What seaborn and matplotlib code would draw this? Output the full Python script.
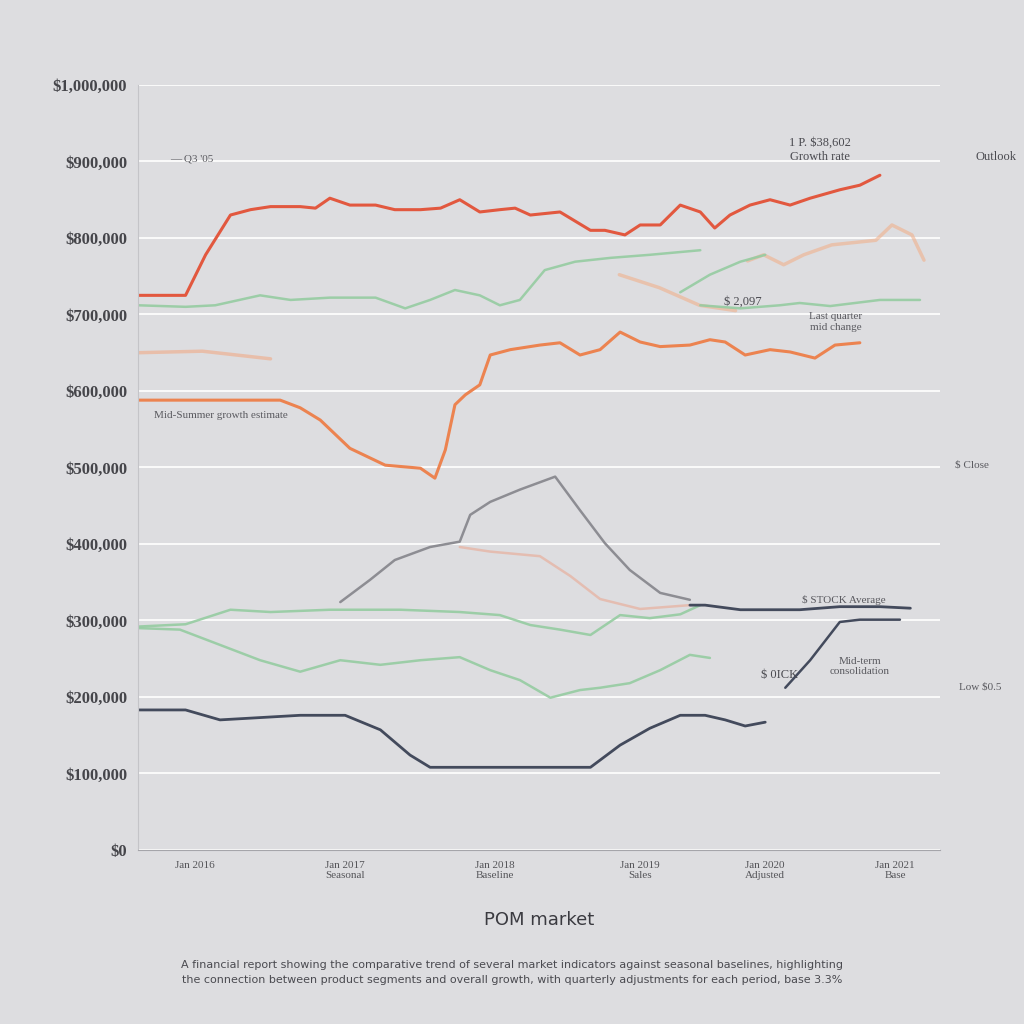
import pandas as pd
import numpy as np
import matplotlib.pyplot as plt
import seaborn as sns

# ==============================
# DATA (x = period index 0-100, y = value in $1,000)
# ==============================
red_x = [0, 5.9, 8.4, 11.5, 14, 16.5, 20.2, 22.1, 23.9, 26.4, 29.6, 32, 35.2, 37.7, 40.1, 42.6, 45.1, 47,
         48.9, 52.6, 56.4, 58.2, 60.7, 62.6, 65.1, 67.6, 70.1, 71.9, 73.8, 76.3, 78.8, 81.3, 83.8, 87.5, 90, 92.5]
red_y = [725, 725, 778, 830, 837, 841, 841, 839, 852, 843, 843, 837, 837, 839, 850, 834, 837, 839,
         830, 834, 810, 810, 804, 817, 817, 843, 834, 813, 830, 843, 850, 843, 852, 863, 869, 882]

orange_x = [0, 17.7, 20.2, 22.7, 26.4, 30.8, 35.2, 37, 38.3, 39.5, 40.8, 42.6, 43.9, 46.4, 50.1, 52.6, 55.1,
            57.6, 60.1, 62.6, 65.1, 68.8, 71.3, 73.2, 75.7, 78.8, 81.3, 84.4, 86.9, 90]
orange_y = [588, 588, 578, 562, 525, 503, 499, 486, 523, 582, 595, 608, 647, 654, 660, 663, 647,
            654, 677, 664, 658, 660, 667, 664, 647, 654, 651, 643, 660, 663]

faint_orange_x = [0, 8, 16.5]
faint_orange_y = [650, 652, 642]
peach_a_x = [60, 65, 70, 74.5]
peach_a_y = [752, 735, 712, 705]
peach_b_x = [76, 78, 80.5, 83, 86.5, 92, 94, 96.5, 98]
peach_b_y = [770, 778, 765, 778, 791, 797, 817, 804, 771]

green_a_x = [0, 5.9, 9.6, 15.2, 19, 23.9, 29.6, 33.3, 36.4, 39.5, 42.6, 45.1, 47.6, 50.7, 54.5, 58.9, 63.8, 70.1]
green_a_y = [712, 710, 712, 725, 719, 722, 722, 708, 719, 732, 725, 712, 719, 758, 769, 774, 778, 784]
green_b_x = [67.6, 71.3, 75.1, 78.2]
green_b_y = [729, 752, 769, 778]
green_c_x = [70.1, 75.1, 80, 82.5, 86.3, 92.5, 97.5]
green_c_y = [712, 708, 712, 715, 711, 719, 719]
green_d_x = [0, 5.9, 11.5, 16.5, 23.9, 32.7, 40.1, 45.1, 48.9, 52.6, 56.4, 60.1, 63.8, 67.6, 70.1]
green_d_y = [292, 295, 314, 311, 314, 314, 311, 307, 294, 288, 281, 307, 303, 308, 320]
green_e_x = [0, 5.2, 10.2, 15.2, 20.2, 25.2, 30.2, 35.2, 40.1, 43.9, 47.6, 51.4, 55.1, 57.6, 61.3, 65.1, 68.8, 71.3]
green_e_y = [290, 288, 268, 248, 233, 248, 242, 248, 252, 235, 222, 199, 209, 212, 218, 235, 255, 251]

gray_x = [25.2, 28.9, 32, 36.4, 40.1, 41.4, 43.9, 47.6, 52, 55.1, 58.2, 61.3, 65.1, 68.8]
gray_y = [324, 353, 379, 396, 403, 438, 455, 471, 488, 444, 401, 366, 336, 327]
rose_x = [40.1, 43.9, 50.1, 53.9, 57.6, 62.6, 68.8]
rose_y = [396, 390, 384, 358, 328, 315, 320]

navy_a_x = [0, 5.9, 10.2, 15.2, 20.2, 25.8, 30.2, 33.9, 36.4, 42.6, 50.1, 56.4, 60.1, 63.8, 67.6, 70.7, 73.2, 75.7, 78.2]
navy_a_y = [183, 183, 170, 173, 176, 176, 157, 124, 108, 108, 108, 108, 137, 159, 176, 176, 170, 162, 167]
navy_b_x = [68.8, 70.7, 75.1, 82.5, 87.5, 92.5, 96.3]
navy_b_y = [320, 320, 314, 314, 318, 318, 316]
navy_c_x = [80.7, 83.8, 87.5, 90, 95]
navy_c_y = [212, 248, 298, 301, 301]

y_ticks = [0, 100, 200, 300, 400, 500, 600, 700, 800, 900, 1000]
y_labels = ["$0", "$100,000", "$200,000", "$300,000", "$400,000", "$500,000",
            "$600,000", "$700,000", "$800,000", "$900,000", "$1,000,000"]
x_ticks = [7.1, 25.8, 44.5, 62.6, 78.2, 94.4]
x_labels = ["Jan 2016", "Jan 2017\nSeasonal", "Jan 2018\nBaseline", "Jan 2019\nSales",
            "Jan 2020\nAdjusted", "Jan 2021\nBase"]

# ==============================
# PLOT
# ==============================
sns.set_style("white")
bg = "#dddde0"
fig = plt.figure(figsize=(10.24, 10.24), dpi=100, facecolor=bg)
ax = fig.add_axes([0.135, 0.170, 0.783, 0.747], facecolor=bg)

series = [
    (faint_orange_x, faint_orange_y, "#f2a57e", 2.5, 0.55),
    (peach_a_x, peach_a_y, "#f0b08c", 2.5, 0.6),
    (peach_b_x, peach_b_y, "#f0b08c", 2.5, 0.6),
    (rose_x, rose_y, "#e6b5a6", 1.8, 0.8),
    (green_a_x, green_a_y, "#95cca1", 1.8, 0.9),
    (green_b_x, green_b_y, "#95cca1", 1.8, 0.9),
    (green_c_x, green_c_y, "#95cca1", 1.8, 0.9),
    (green_d_x, green_d_y, "#95cca1", 1.8, 0.9),
    (green_e_x, green_e_y, "#95cca1", 1.8, 0.9),
    (gray_x, gray_y, "#8d8d93", 1.8, 1.0),
    (red_x, red_y, "#e2583f", 2.2, 1.0),
    (orange_x, orange_y, "#ec8350", 2.2, 1.0),
    (navy_a_x, navy_a_y, "#434a5c", 2.0, 1.0),
    (navy_b_x, navy_b_y, "#434a5c", 2.0, 1.0),
    (navy_c_x, navy_c_y, "#434a5c", 1.8, 1.0),
]
for xs, ys, c, lw, a in series:
    sns.lineplot(x=xs, y=ys, color=c, lw=lw, alpha=a, ax=ax, sort=False)

ax.set_xlim(0, 100)
ax.set_ylim(0, 1000)
ax.set_yticks(y_ticks)
ax.set_yticklabels(y_labels, fontsize=12, color="#45454a", fontweight="bold", family="Liberation Serif")
ax.set_xticks(x_ticks)
ax.set_xticklabels(x_labels, fontsize=8, color="#555559", family="Liberation Serif")
ax.tick_params(length=0, pad=8)
ax.grid(axis="y", color="white", lw=1.2)
ax.set_axisbelow(True)
for s in ["top", "right"]:
    ax.spines[s].set_visible(False)
ax.spines["left"].set_color("#c4c4c8")
ax.spines["bottom"].set_color("#a5a5aa")
ax.set_xlabel("POM market", fontsize=13, color="#3a3a40", labelpad=22)

# annotations
ann = dict(fontsize=8, color="#5a5a60", family="Liberation Serif")
ax.text(4, 900, "— Q3 '05", **ann)
ax.text(85, 902, "1 P. $38,602\nGrowth rate", ha="center", fontsize=9, color="#4a4a50", family="Liberation Serif")
ax.text(107, 902, "Outlook", ha="center", fontsize=9, color="#4a4a50", family="Liberation Serif")
ax.text(73, 713, "$ 2,097", fontsize=9, color="#4a4a50", family="Liberation Serif")
ax.text(87, 680, "Last quarter\nmid change", ha="center", **ann)
ax.text(2, 565, "Mid-Summer growth estimate", **ann)
ax.text(104, 500, "$ Close", ha="center", **ann)
ax.text(88, 323, "$ STOCK Average", ha="center", **ann)
ax.text(80, 225, "$ 0ICK", ha="center", fontsize=9, color="#4a4a50", family="Liberation Serif")
ax.text(90, 230, "Mid-term\nconsolidation", ha="center", **ann)
ax.text(105, 210, "Low $0.5", ha="center", **ann)

fig.text(0.5, 0.050, "A financial report showing the comparative trend of several market indicators against seasonal baselines, highlighting\n"
         "the connection between product segments and overall growth, with quarterly adjustments for each period, base 3.3%",
         ha="center", va="center", fontsize=8, color="#4a4a50", linespacing=1.6)

plt.savefig("out.png", dpi=100, facecolor=bg)
